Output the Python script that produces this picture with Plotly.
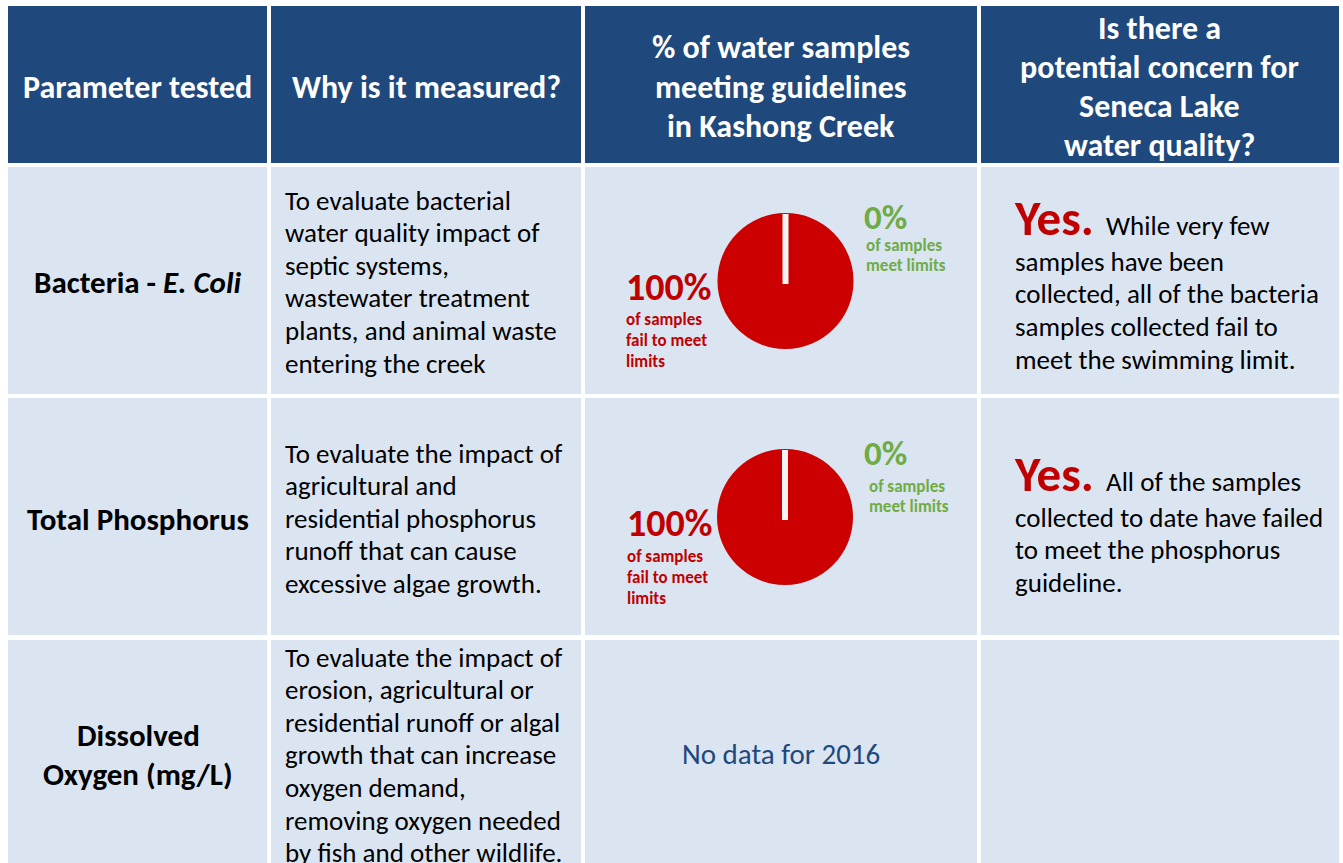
import plotly.graph_objects as go

# ---- data ----
headers = [
    ["Parameter tested"],
    ["Why is it measured?"],
    ["% of water samples", "meeting guidelines", "in Kashong Creek"],
    ["Is there a", "potential concern for", "Seneca Lake", "water quality?"],
]
parameters = [
    ["Bacteria - <i>E. Coli</i>"],
    ["Total Phosphorus"],
    ["Dissolved", "Oxygen (mg/L)"],
]
why_measured = [
    ["To evaluate bacterial", "water quality impact of", "septic systems,",
     "wastewater treatment", "plants, and animal waste", "entering the creek"],
    ["To evaluate the impact of", "agricultural and", "residential phosphorus",
     "runoff that can cause", "excessive algae growth."],
    ["To evaluate the impact of", "erosion, agricultural or", "residential runoff or algal",
     "growth that can increase", "oxygen demand,", "removing oxygen needed",
     "by fish and other wildlife."],
]
fail_pct = [100, 100, None]
meet_pct = [0, 0, None]
no_data_text = "No data for 2016"
concern_flag = ["Yes.", "Yes.", None]
concern_text = [
    ["While very few", "samples have been", "collected, all of the bacteria",
     "samples collected fail to", "meet the swimming limit."],
    ["All of the samples", "collected to date have failed", "to meet the phosphorus",
     "guideline."],
    None,
]

# ---- style ----
W, H = 1343, 863
FONT = "Carlito, Calibri, Lato, sans-serif"
HEAD_BG = "#1F497D"
CELL_BG = "#DBE5F1"
RED = "#C00000"
PIE_RED = "#CC0000"
GREEN = "#6FAC46"
BLUE_TXT = "#1F497D"

col_x = [(8, 267), (271, 581), (585, 977), (981, 1339)]
row_y = [(6, 163), (167, 394), (398, 635), (640, 870)]
pie_c = [(785.5, 281, 68), (785, 517, 68)]

fig = go.Figure()
# invisible trace so the cartesian axes exist for shapes/annotations
fig.add_trace(go.Scatter(x=[0, W], y=[0, H], mode="markers", marker_opacity=0,
                         hoverinfo="skip", showlegend=False))
shapes = []
ann = []


def text(x, y, s, size, color="black", bold=False, anchor="center"):
    if bold:
        s = "<b>" + s + "</b>"
    ann.append(dict(x=x, y=y, text=s, showarrow=False, xanchor=anchor, yanchor="middle",
                    font=dict(family=FONT, size=size, color=color)))


# cells
for r, (y0, y1) in enumerate(row_y):
    for c, (x0, x1) in enumerate(col_x):
        shapes.append(dict(type="rect", x0=x0, x1=x1, y0=y0, y1=y1, line_width=0,
                           fillcolor=HEAD_BG if r == 0 else CELL_BG, layer="below"))

# header text
head_pos = [[87], [87], [47, 87, 126], [28, 67, 106, 145]]
for c, lines in enumerate(headers):
    cx = (col_x[c][0] + col_x[c][1]) / 2
    if c == 3:
        cx = 1159
    for ln, y in zip(lines, head_pos[c]):
        text(cx, y, ln, 32, "white", bold=True)

# parameter column
param_pos = [[282], [519], [735, 774]]
for i, lines in enumerate(parameters):
    for ln, y in zip(lines, param_pos[i]):
        text(138, y, ln, 31, bold=True)

# why column
why_top = [200, 453, 657]
for i, lines in enumerate(why_measured):
    for k, ln in enumerate(lines):
        text(283, why_top[i] + 32.6 * k, ln, 27, anchor="left")

# pies
for i in range(2):
    cx, cy, r = pie_c[i]
    fig.add_trace(go.Pie(
        values=[fail_pct[i], meet_pct[i]], labels=["Fail", "Meet"],
        marker=dict(colors=[PIE_RED, GREEN], line=dict(width=0)),
        sort=False, direction="clockwise", rotation=0,
        textinfo="none", hoverinfo="label+percent", showlegend=False,
        domain=dict(x=[(cx - r) / W, (cx + r) / W], y=[1 - (cy + r) / H, 1 - (cy - r) / H]),
    ))
    shapes.append(dict(type="line", x0=cx, x1=cx, y0=cy + 3, y1=cy - r + 1,
                       line=dict(color="#F4F4F4", width=6), layer="above"))

fail_pos = [(626, 287, [319, 340, 361]), (627, 523, [556, 577, 598])]
meet_pos = [(864, 217, 866, [245, 265]), (864, 453, 869, [486, 506])]
for i in range(2):
    x, y, subs = fail_pos[i]
    text(x - 2, y, f"{fail_pct[i]}%", 38, RED, bold=True, anchor="left")
    for ln, yy in zip(["of samples", "fail to meet", "limits"], subs):
        text(x - 2, yy, ln, 17, RED, bold=True, anchor="left")
    x, y, xs, subs = meet_pos[i]
    text(x - 2, y, f"{meet_pct[i]}%", 35, GREEN, bold=True, anchor="left")
    for ln, yy in zip(["of samples", "meet limits"], subs):
        text(xs - 2, yy, ln, 17, GREEN, bold=True, anchor="left")

text(781, 754, no_data_text, 29, BLUE_TXT)

# concern column
concern_top = [218, 474]
for i in range(2):
    lines = concern_text[i]
    y0 = concern_top[i]
    first = (f"<span style='font-size:49px;color:{RED}'><b>{concern_flag[i]}</b></span>"
             f"  {lines[0]}")
    text(1012, y0, first, 27, anchor="left")
    for k, ln in enumerate(lines[1:]):
        text(1013, y0 + 43 + 32.7 * k, ln, 27, anchor="left")

fig.update_layout(
    width=W, height=H,
    margin=dict(l=0, r=0, t=0, b=0),
    paper_bgcolor="white", plot_bgcolor="white",
    xaxis=dict(range=[0, W], visible=False, fixedrange=True),
    yaxis=dict(range=[H, 0], visible=False, fixedrange=True),
    shapes=shapes, annotations=ann,
)

fig.write_html("out.html", config={"displayModeBar": False},
               post_script="document.body.style.margin='0';")
